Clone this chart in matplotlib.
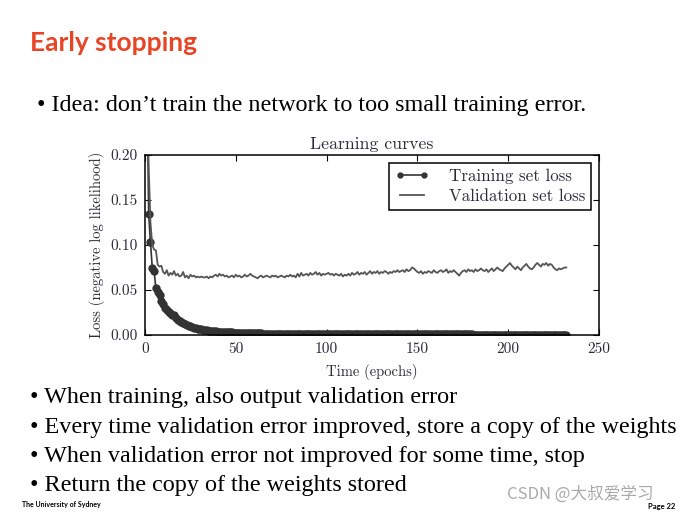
import numpy as np
import matplotlib
matplotlib.use("Agg")
import matplotlib.pyplot as plt

# training loss, one value per epoch
train_loss = [
    0.300, 0.135, 0.103, 0.075, 0.071, 0.052, 0.048, 0.044, 0.038, 0.035,
    0.030, 0.028, 0.026, 0.024, 0.022, 0.022, 0.019, 0.017, 0.016, 0.014,
    0.013, 0.012, 0.011, 0.010, 0.0095, 0.0088, 0.0082, 0.0076, 0.0071, 0.0066,
    0.0062, 0.0058, 0.0055, 0.0052, 0.0049, 0.0046, 0.0044, 0.0042, 0.0040, 0.0038,
    0.0036, 0.0035, 0.0033, 0.0032, 0.0031, 0.0030, 0.0029, 0.0028, 0.0027, 0.0026,
    0.0025, 0.0024, 0.0023, 0.0023, 0.0022, 0.0021, 0.0021, 0.0020, 0.0019, 0.0019,
    0.0018, 0.0018, 0.0017, 0.0017, 0.0016, 0.0016, 0.0015, 0.0015, 0.0015, 0.0014,
    0.0014, 0.0013, 0.0013, 0.0013, 0.0012, 0.0012, 0.0012, 0.0011, 0.0011, 0.0011,
    0.0011, 0.0010, 0.0010, 0.0010, 0.0010, 0.0009, 0.0009, 0.0009, 0.0009, 0.0009,
    0.0008, 0.0008, 0.0008, 0.0008, 0.0008, 0.0008, 0.0008, 0.0008, 0.0008, 0.0008,
    0.0008, 0.0008, 0.0008, 0.0008, 0.0008, 0.0008, 0.0008, 0.0008, 0.0008, 0.0008,
    0.0007, 0.0007, 0.0007, 0.0007, 0.0007, 0.0007, 0.0007, 0.0007, 0.0007, 0.0007,
    0.0007, 0.0007, 0.0007, 0.0007, 0.0007, 0.0007, 0.0007, 0.0007, 0.0007, 0.0007,
    0.0007, 0.0007, 0.0007, 0.0007, 0.0007, 0.0007, 0.0007, 0.0007, 0.0007, 0.0007,
    0.0006, 0.0006, 0.0006, 0.0006, 0.0006, 0.0006, 0.0006, 0.0006, 0.0006, 0.0006,
    0.0006, 0.0006, 0.0006, 0.0006, 0.0006, 0.0006, 0.0006, 0.0006, 0.0006, 0.0006,
    0.0006, 0.0006, 0.0006, 0.0006, 0.0006, 0.0006, 0.0006, 0.0006, 0.0006, 0.0006,
    0.0006, 0.0006, 0.0006, 0.0006, 0.0006, 0.0006, 0.0006, 0.0006, 0.0006, 0.0006,
    0.0005, 0.0005, 0.0005, 0.0005, 0.0005, 0.0005, 0.0005, 0.0005, 0.0005, 0.0005,
    0.0005, 0.0005, 0.0005, 0.0005, 0.0005, 0.0005, 0.0005, 0.0005, 0.0005, 0.0005,
    0.0005, 0.0005, 0.0005, 0.0005, 0.0005, 0.0005, 0.0005, 0.0005, 0.0005, 0.0005,
    0.0005, 0.0005, 0.0005, 0.0005, 0.0005, 0.0005, 0.0005, 0.0005, 0.0005, 0.0005,
    0.0005, 0.0005, 0.0005, 0.0005, 0.0005, 0.0005, 0.0005, 0.0005, 0.0005, 0.0005,
    0.0005, 0.0005,
]

# validation loss, one value per epoch
valid_loss = [
    0.280, 0.190, 0.125, 0.100, 0.095, 0.094, 0.078, 0.076, 0.077, 0.070,
    0.068, 0.072, 0.066, 0.069, 0.067, 0.071, 0.066, 0.068, 0.065, 0.066,
    0.070, 0.064, 0.066, 0.063, 0.067, 0.065, 0.066, 0.064, 0.065, 0.064,
    0.065, 0.064, 0.064, 0.065, 0.063, 0.065, 0.064, 0.066, 0.067, 0.065,
    0.068, 0.066, 0.067, 0.065, 0.066, 0.064, 0.065, 0.066, 0.064, 0.067,
    0.065, 0.066, 0.064, 0.065, 0.067, 0.065, 0.066, 0.068, 0.066, 0.065,
    0.064, 0.063, 0.065, 0.066, 0.064, 0.065, 0.066, 0.065, 0.064, 0.066,
    0.065, 0.066, 0.064, 0.065, 0.066, 0.065, 0.064, 0.066, 0.065, 0.067,
    0.065, 0.066, 0.064, 0.068, 0.065, 0.069, 0.066, 0.067, 0.068, 0.066,
    0.069, 0.067, 0.068, 0.070, 0.067, 0.069, 0.066, 0.068, 0.067, 0.068,
    0.069, 0.067, 0.068, 0.066, 0.068, 0.067, 0.066, 0.068, 0.065, 0.067,
    0.066, 0.068, 0.066, 0.069, 0.067, 0.068, 0.070, 0.067, 0.069, 0.068,
    0.070, 0.067, 0.069, 0.071, 0.068, 0.070, 0.069, 0.071, 0.068, 0.070,
    0.069, 0.071, 0.070, 0.068, 0.070, 0.069, 0.071, 0.070, 0.072, 0.070,
    0.071, 0.072, 0.070, 0.073, 0.071, 0.072, 0.075, 0.074, 0.072, 0.070,
    0.069, 0.071, 0.068, 0.070, 0.069, 0.071, 0.070, 0.069, 0.072, 0.070,
    0.069, 0.071, 0.072, 0.070, 0.071, 0.073, 0.069, 0.071, 0.070, 0.072,
    0.070, 0.068, 0.066, 0.069, 0.071, 0.072, 0.070, 0.073, 0.071, 0.072,
    0.070, 0.073, 0.071, 0.072, 0.074, 0.072, 0.071, 0.073, 0.070, 0.072,
    0.074, 0.071, 0.073, 0.075, 0.073, 0.072, 0.071, 0.074, 0.076, 0.078,
    0.080, 0.077, 0.075, 0.073, 0.076, 0.074, 0.072, 0.075, 0.077, 0.079,
    0.076, 0.074, 0.073, 0.075, 0.078, 0.080, 0.078, 0.076, 0.079, 0.078,
    0.080, 0.077, 0.079, 0.078, 0.075, 0.073, 0.072, 0.074, 0.073, 0.074,
    0.075, 0.075,
]

epochs = np.arange(1, len(train_loss) + 1)

x_ticks = [0, 50, 100, 150, 200, 250]
y_ticks = [0.00, 0.05, 0.10, 0.15, 0.20]

slide_title = "Early stopping"
idea_line = "\u2022 Idea: don\u2019t train the network to too small training error."
bullets = [
    "\u2022 When training, also output validation error",
    "\u2022 Every time validation error improved, store a copy of the weights",
    "\u2022 When validation error not improved for some time, stop",
    "\u2022 Return the copy of the weights stored",
]

W, H = 699, 516
fig = plt.figure(figsize=(W / 100, H / 100), dpi=100)
fig.patch.set_facecolor("white")

# slide text
fig.text(30 / W, 1 - 43 / H, slide_title, fontsize=19, fontweight="bold",
         color="#E64626", family="Lato", va="center", ha="left")
fig.text(37 / W, 1 - 106 / H, idea_line, fontsize=17.4, family="Liberation Serif",
         va="center", ha="left", color="black")
for i, b in enumerate(bullets):
    fig.text(30 / W, 1 - (398 + i * 29.3) / H, b, fontsize=17.4,
             family="Liberation Serif", va="center", ha="left", color="black")
fig.text(22 / W, 1 - 505 / H, "The University of Sydney", fontsize=5,
         family="Lato", fontweight="bold", va="center", ha="left")
fig.text(507 / W, 1 - 494 / H, "CSDN @大叔爱学习", fontsize=12,
         family=["Noto Sans CJK SC", "DejaVu Sans"], color="#a0a0a0",
         va="center", ha="left", alpha=0.9)
fig.text(648 / W, 1 - 507 / H, "Page 22", fontsize=5.5, family="Lato",
         fontweight="bold", va="center", ha="left")

# the chart
chart_font = "cmr10"
txt_col = "#2b2b3a"
ax = fig.add_axes([145 / W, 1 - 335 / H, 454 / W, 180 / H])
ax.plot(epochs, train_loss, color="#333333", lw=1.2, marker="o", ms=5,
        mec="#333333", mfc="#333333", label="Training set loss")
ax.plot(epochs, valid_loss, color="#555555", lw=1.3,
        label="Validation set loss")
ax.set_xlim(0, 250)
ax.set_ylim(0, 0.2)
ax.set_xticks(x_ticks)
ax.set_yticks(y_ticks)
ax.set_xticklabels([str(t) for t in x_ticks], family=chart_font, fontsize=11, color=txt_col)
ax.set_yticklabels(["%.2f" % t for t in y_ticks], family=chart_font, fontsize=11, color=txt_col)
ax.tick_params(direction="in", top=True, right=True, length=4, width=0.8, pad=5)
for s in ax.spines.values():
    s.set_linewidth(1.1)
ax.set_title("Learning curves", family=chart_font, fontsize=12.8, color=txt_col, pad=4)
ax.set_xlabel("Time (epochs)", family=chart_font, fontsize=10.5, color=txt_col, labelpad=6)
ax.set_ylabel("Loss (negative log likelihood)", family=chart_font, fontsize=10.5,
              color=txt_col, labelpad=4)
leg = ax.legend(loc="upper right", numpoints=2, fancybox=False, framealpha=1,
                edgecolor="black", prop={"family": chart_font, "size": 12.2},
                borderaxespad=0.45, handlelength=2.0, labelspacing=0.3,
                markerscale=0.7, borderpad=0.35, handletextpad=1.2)
leg.get_frame().set_linewidth(1.1)
for t in leg.get_texts():
    t.set_color(txt_col)

fig.savefig("out.png", dpi=100)
